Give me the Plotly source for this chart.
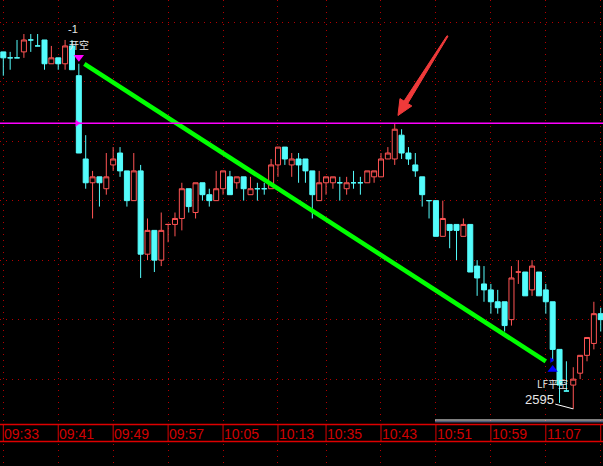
import plotly.graph_objects as go

W, H = 603, 466

# ---------------- data (1-minute bars, index 0 = 09:33) ----------------
opens = [2655, 2654, 2654, 2655, 2657, 2656, 2657, 2653, 2654, 2653,
         2656, 2651, 2637, 2633, 2634, 2632, 2636, 2638, 2635, 2630,
         2635, 2621, 2625, 2620, 2626, 2626, 2627, 2632, 2628, 2633,
         2631, 2630, 2632, 2634, 2633, 2634, 2631, 2632, 2632, 2632,
         2636, 2639, 2636, 2637, 2637, 2635, 2630, 2633, 2633, 2633,
         2632, 2633, 2633, 2633, 2634, 2634, 2637, 2637, 2641, 2638,
         2636, 2634, 2630, 2630, 2624, 2626, 2626, 2624, 2626, 2619,
         2616, 2615, 2613, 2613, 2610, 2618, 2618, 2615, 2618, 2615,
         2613, 2605, 2598, 2599, 2601, 2604, 2606, 2611]
highs = [2655, 2655, 2657, 2658, 2658, 2658, 2657, 2656, 2654, 2657,
         2657, 2653, 2641, 2635, 2634, 2638, 2639, 2639, 2635, 2638,
         2636, 2627, 2625, 2628, 2626, 2628, 2633, 2632, 2633, 2633,
         2632, 2635, 2635, 2635, 2634, 2634, 2634, 2633, 2633, 2637,
         2639, 2639, 2638, 2638, 2637, 2635, 2635, 2634, 2634, 2634,
         2634, 2635, 2634, 2635, 2635, 2638, 2639, 2643, 2642, 2639,
         2638, 2634, 2630, 2630, 2630, 2626, 2626, 2627, 2626, 2620,
         2619, 2616, 2615, 2613, 2619, 2620, 2618, 2620, 2618, 2616,
         2613, 2605, 2603, 2602, 2604, 2607, 2613, 2612]
lows = [2651, 2652, 2654, 2654, 2655, 2656, 2652, 2653, 2652, 2652,
        2652, 2638, 2632, 2627, 2629, 2631, 2635, 2634, 2629, 2630,
        2617, 2620, 2618, 2619, 2623, 2624, 2625, 2628, 2627, 2630,
        2629, 2630, 2631, 2631, 2632, 2630, 2631, 2630, 2631, 2632,
        2634, 2636, 2634, 2633, 2633, 2627, 2630, 2631, 2632, 2630,
        2631, 2632, 2631, 2633, 2633, 2634, 2637, 2636, 2637, 2636,
        2634, 2629, 2627, 2624, 2624, 2622, 2620, 2624, 2618, 2614,
        2613, 2611, 2611, 2608, 2609, 2616, 2614, 2614, 2614, 2611,
        2603, 2596, 2598, 2595, 2600, 2603, 2605, 2608]
closes = [2654, 2654, 2654, 2657, 2657, 2656, 2653, 2654, 2653, 2656,
          2652, 2638, 2633, 2634, 2633, 2634, 2637, 2635, 2630, 2635,
          2621, 2625, 2620, 2625, 2626, 2627, 2632, 2629, 2633, 2631,
          2630, 2632, 2635, 2631, 2634, 2632, 2632, 2632, 2632, 2636,
          2639, 2637, 2637, 2636, 2635, 2631, 2633, 2634, 2634, 2633,
          2633, 2633, 2633, 2635, 2635, 2637, 2638, 2642, 2638, 2637,
          2635, 2631, 2630, 2624, 2627, 2625, 2625, 2626, 2618, 2617,
          2615, 2613, 2612, 2609, 2617, 2618, 2614, 2619, 2614, 2613,
          2605, 2599, 2598, 2600, 2604, 2607, 2611, 2610]
red_doji = [24, 75]  # flat bars drawn in the "up" colour

tick_index = [0, 8, 16, 24, 32, 40, 47, 55, 63, 71, 79, 87]
tick_labels = ["09:33", "09:41", "09:49", "09:57", "10:05", "10:13",
               "10:35", "10:43", "10:51", "10:59", "11:07"]  # last tick's label is off-screen
grid_prices = [2600, 2610, 2620, 2630, 2640, 2650, 2660]

pressure_price = 2643             # magenta horizontal line
signal_x = [11.8, 79.0]           # green trade line
signal_y = [2653.0, 2603.0]
open_sig_x, open_sig_y = [11], [2654.1]      # 开空 marker
close_sig_x, close_sig_y = [80], [2601.6]    # 平空 marker

# ---------------- styling ----------------
RED = "#FF5454"
CYAN = "#54FCFC"
GRID = "#B40000"
AXRED = "#DD0000"
XR = [-0.4806, 87.33]
YR = [2585.40, 2663.72]


def px(x, y):
    return x / W, 1 - y / H


n = len(opens)
idx = list(range(n))
up = [closes[i] > opens[i] or i in red_doji for i in idx]


def pick(arr, flag):
    return [arr[i] for i in idx if up[i] == flag]


fig = go.Figure()
for flag, col, fill in [(True, RED, "#000000"), (False, CYAN, CYAN)]:
    style = dict(line=dict(color=col, width=1), fillcolor=fill)
    fig.add_trace(go.Candlestick(
        x=[i for i in idx if up[i] == flag],
        open=pick(opens, flag), high=pick(highs, flag),
        low=pick(lows, flag), close=pick(closes, flag),
        increasing=style, decreasing=style, whiskerwidth=0,
        hoverinfo="skip", showlegend=False))

fig.add_trace(go.Scatter(x=signal_x, y=signal_y, mode="lines",
                         line=dict(color="#00FF00", width=4.5),
                         hoverinfo="skip", showlegend=False))
fig.add_trace(go.Scatter(x=open_sig_x, y=open_sig_y, mode="markers",
                         marker=dict(symbol="triangle-down", size=9,
                                     color="#FF00FF", line=dict(width=0)),
                         hoverinfo="skip", showlegend=False))
fig.add_trace(go.Scatter(x=close_sig_x, y=close_sig_y, mode="markers",
                         marker=dict(symbol="triangle-up", size=9,
                                     color="#0000FF", line=dict(width=0)),
                         hoverinfo="skip", showlegend=False))
fig.add_trace(go.Scatter(x=[79.85], y=[2603.2], mode="markers",
                         marker=dict(symbol="triangle-right", size=5,
                                     color="#0000FF", line=dict(width=0)),
                         hoverinfo="skip", showlegend=False))
fig.add_trace(go.Scatter(x=[10.75], y=[pressure_price], mode="markers",
                         marker=dict(symbol="triangle-right", size=6,
                                     color="#FF00FF", line=dict(width=0)),
                         hoverinfo="skip", showlegend=False))

shapes = []
# magenta pressure line
shapes.append(dict(type="line", xref="paper", x0=0, x1=1, yref="y",
                   y0=pressure_price, y1=pressure_price,
                   line=dict(color="#FF00FF", width=1.5)))
# time axis band
shapes.append(dict(type="rect", xref="paper", yref="paper", x0=0, x1=1,
                   y0=1 - 442 / H, y1=1 - 423 / H, fillcolor="#000000",
                   line=dict(width=0)))
for yy in (424.5, 441.5):
    shapes.append(dict(type="line", xref="paper", yref="paper", x0=0, x1=1,
                       y0=1 - yy / H, y1=1 - yy / H,
                       line=dict(color=AXRED, width=1.5)))
for t in tick_index:
    shapes.append(dict(type="line", xref="x", yref="paper", x0=t, x1=t,
                       y0=1 - 441.5 / H, y1=1 - 424.5 / H,
                       line=dict(color=AXRED, width=1)))
# scrollbar-like double line
shapes.append(dict(type="line", xref="paper", yref="paper", x0=435 / W, x1=1,
                   y0=1 - 420 / H, y1=1 - 420 / H,
                   line=dict(color="#FFFFFF", width=1)))
shapes.append(dict(type="line", xref="paper", yref="paper", x0=435 / W, x1=1,
                   y0=1 - 421.8 / H, y1=1 - 421.8 / H,
                   line=dict(color="#7080B0", width=1)))

# red hand-drawn arrow
pts = [(446.99, 35.68), (404.03, 101.14), (399.95, 98.61), (398.0, 115.5),
       (411.85, 105.99), (407.77, 103.46), (448.01, 36.32)]
path = "M " + " L ".join("%.4f,%.4f" % px(a, b) for a, b in pts) + " Z"
shapes.append(dict(type="path", xref="paper", yref="paper", path=path,
                   fillcolor="#F03A3A", line=dict(color="#F03A3A", width=1)))

annotations = []
for t, lab in zip(tick_index, tick_labels):
    annotations.append(dict(x=t, xref="x", y=1 - 433.5 / H, yref="paper",
                            text=lab, showarrow=False, xanchor="left",
                            yanchor="middle", xshift=-1,
                            font=dict(family="Liberation Sans", size=14,
                                      color="#D00000")))

TXT = "#E6E6E6"
for tx, ty, txt, fam, sz in [(73, 29, "-1", "Liberation Sans", 11),
                             (78.5, 44.5, "开空", "Noto Sans CJK SC", 10),
                             (552, 383, "LF平空", "Noto Sans CJK SC", 10)]:
    annotations.append(dict(x=tx / W, y=1 - ty / H, xref="paper", yref="paper",
                            text=txt, showarrow=False, xanchor="center",
                            yanchor="middle",
                            font=dict(family=fam, size=sz, color=TXT)))
low_i = lows.index(min(lows))
annotations.append(dict(x=low_i, y=min(lows), xref="x", yref="y",
                        text=str(min(lows)), showarrow=True, arrowhead=0,
                        arrowwidth=1, arrowcolor="#FFFFFF", ax=-34, ay=-9,
                        standoff=0,
                        font=dict(family="Liberation Sans", size=13, color=TXT)))

fig.update_layout(
    width=W, height=H, margin=dict(l=0, r=0, t=0, b=0, autoexpand=False),
    paper_bgcolor="#000000", plot_bgcolor="#000000",
    showlegend=False, shapes=shapes, annotations=annotations,
    boxgap=0.27, boxgroupgap=0,
    xaxis=dict(range=XR, showgrid=True, gridcolor=GRID, griddash="1px,5px",
               gridwidth=1, tickvals=tick_index, showticklabels=False,
               zeroline=False, showline=False, ticks="",
               rangeslider=dict(visible=False), fixedrange=True),
    yaxis=dict(range=YR, showgrid=True, gridcolor=GRID, griddash="1px,5px",
               gridwidth=1, tickvals=grid_prices, showticklabels=False,
               zeroline=False, showline=False, ticks="", fixedrange=True),
)

fig.write_html(
    "out.html",
    config={"displayModeBar": False, "responsive": False},
    post_script="document.body.style.margin='0px';"
                "document.body.style.padding='0px';"
                "document.body.style.background='#000';"
                "document.body.style.overflow='hidden';",
)
